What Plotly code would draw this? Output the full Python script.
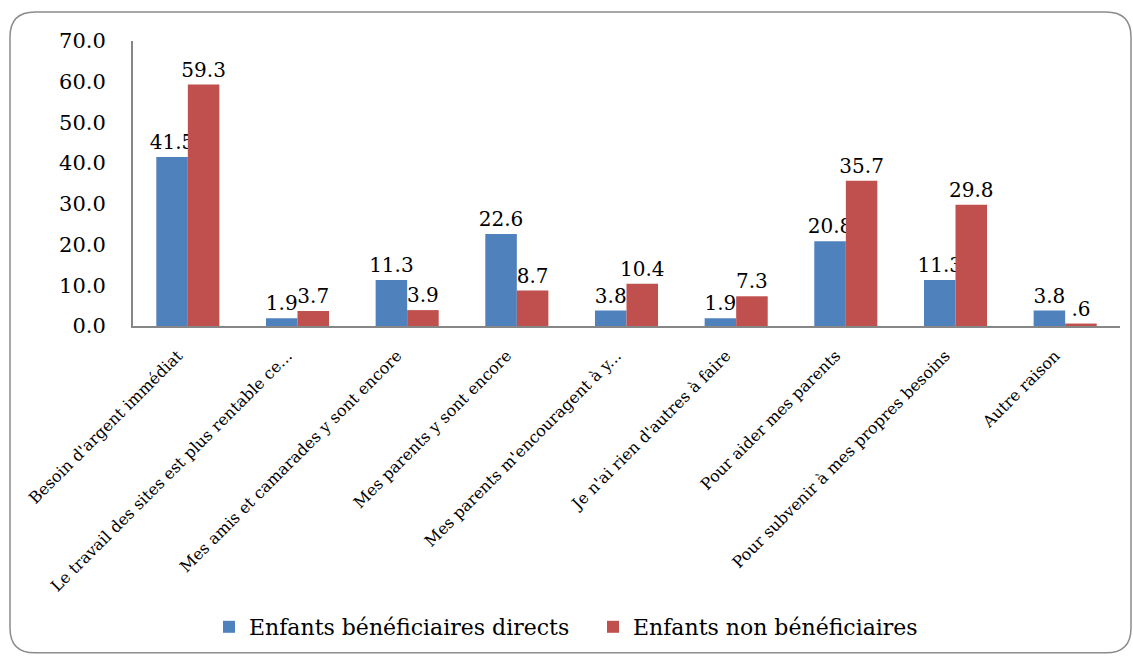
import plotly.graph_objects as go

categories = [
    "Besoin d'argent immédiat",
    "Le travail des sites est plus rentable ce...",
    "Mes amis et camarades y sont encore",
    "Mes parents y sont encore",
    "Mes parents m'encouragent à y...",
    "Je n'ai rien d'autres à faire",
    "Pour aider mes parents",
    "Pour subvenir à mes propres besoins",
    "Autre raison",
]
direct = [41.5, 1.9, 11.3, 22.6, 3.8, 1.9, 20.8, 11.3, 3.8]
non_benef = [59.3, 3.7, 3.9, 8.7, 10.4, 7.3, 35.7, 29.8, 0.6]
series_names = ["Enfants bénéficiaires directs", "Enfants non bénéficiaires"]
y_ticks = [0, 10, 20, 30, 40, 50, 60, 70]


def lab(v):
    s = f"{v:.1f}"
    return s[1:] if s.startswith("0.") else s


FONT = "DejaVu Serif"
BLUE = "#4F81BD"
RED = "#C0504D"

fig = go.Figure()
for vals, name, col in [(direct, series_names[0], BLUE), (non_benef, series_names[1], RED)]:
    fig.add_trace(go.Bar(
        x=categories, y=vals, name=name, marker_color=col,
        marker_line_width=0,
        text=[lab(v) for v in vals], textposition="outside",
        constraintext="none",
        textfont=dict(family=FONT, size=20, color="black"), cliponaxis=False,
    ))

L, R, T, B = 133, 13, 41, 331
W, H = 1133, 658
pw, ph = W - L - R, H - T - B


def px2x(p):
    return (p - L) / pw


def px2y(p):
    return (H - B - p) / ph


x0, x1 = px2x(10), px2x(1131)
y0, y1 = px2y(655), px2y(12)
rx, ry = 25 / pw, 25 / ph
path = (f"M {x0+rx},{y1} L {x1-rx},{y1} Q {x1},{y1} {x1},{y1-ry} "
        f"L {x1},{y0+ry} Q {x1},{y0} {x1-rx},{y0} L {x0+rx},{y0} "
        f"Q {x0},{y0} {x0},{y0+ry} L {x0},{y1-ry} Q {x0},{y1} {x0+rx},{y1} Z")

fig.update_layout(
    width=W, height=H,
    margin=dict(l=L, r=R, t=T, b=B),
    paper_bgcolor="white", plot_bgcolor="white",
    barmode="group", bargap=0.425, bargroupgap=0,
    font=dict(family=FONT, color="black"),
    showlegend=True,
    legend=dict(orientation="h", x=px2x(209), xanchor="left",
                y=px2y(627), yanchor="middle",
                font=dict(family=FONT, size=22, color="black"),
                itemwidth=30, entrywidth=339, entrywidthmode="pixels"),
    shapes=[dict(type="path", path=path, xref="paper", yref="paper",
                 line=dict(color="#8c8c8c", width=1.5), fillcolor="rgba(0,0,0,0)",
                 layer="below")],
)
fig.update_xaxes(
    tickangle=-45, tickfont=dict(family=FONT, size=16, color="black"),
    showline=True, linecolor="#868686", linewidth=2, showgrid=False,
    ticks="", automargin=False, ticklabelstandoff=12, ticklabelshift=-10,
)
fig.update_yaxes(
    range=[0, 70], tickvals=y_ticks, tickformat=".1f",
    tickfont=dict(family=FONT, size=21, color="black"),
    showline=True, linecolor="#868686", linewidth=2, showgrid=False,
    ticks="", ticklabelstandoff=21, automargin=False, zeroline=False,
)

fig.write_html("out.html", config={"displayModeBar": False},
               post_script="document.body.style.margin='0';")
